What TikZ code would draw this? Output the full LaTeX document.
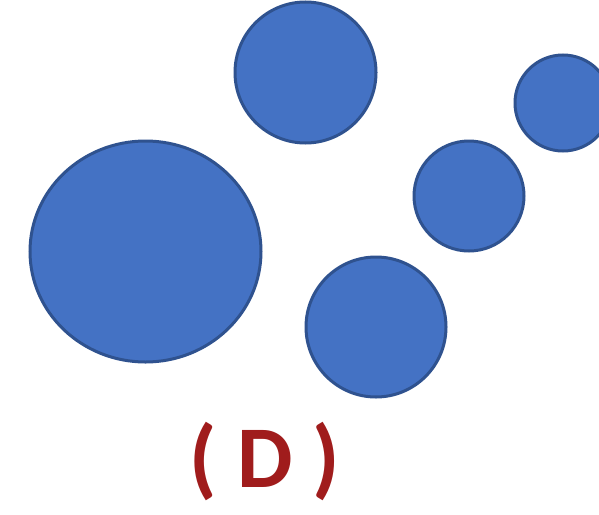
\documentclass[tikz,border=0pt]{standalone}
\usepackage{fontspec}
\setmainfont{Carlito}
\definecolor{bfill}{HTML}{4472C4}
\definecolor{bline}{HTML}{2F528F}
\definecolor{lbl}{HTML}{A01C1C}
\begin{document}
\begin{tikzpicture}[x=0.5pt,y=-0.5pt,
  ball/.style={fill=bfill,draw=bline,line width=1.5pt}]
\useasboundingbox (0,0) rectangle (599,514);
\fill[white] (0,0) rectangle (599,514);
\begin{scope}
\clip (0,0) rectangle (599,514);
\draw[ball] (145.5,251.5) ellipse [x radius=115.5, y radius=110.5];
\draw[ball] (305.5,72.5) circle [radius=70.5];
\draw[ball] (563,103) circle [radius=48];
\draw[ball] (469,196) circle [radius=55];
\draw[ball] (376,327) circle [radius=70];
\end{scope}
\node[text=lbl,font=\fontsize{44}{50}\selectfont\bfseries,inner sep=0pt,anchor=base] (lab) at (265,487) {( D )};
\end{tikzpicture}
\end{document}
